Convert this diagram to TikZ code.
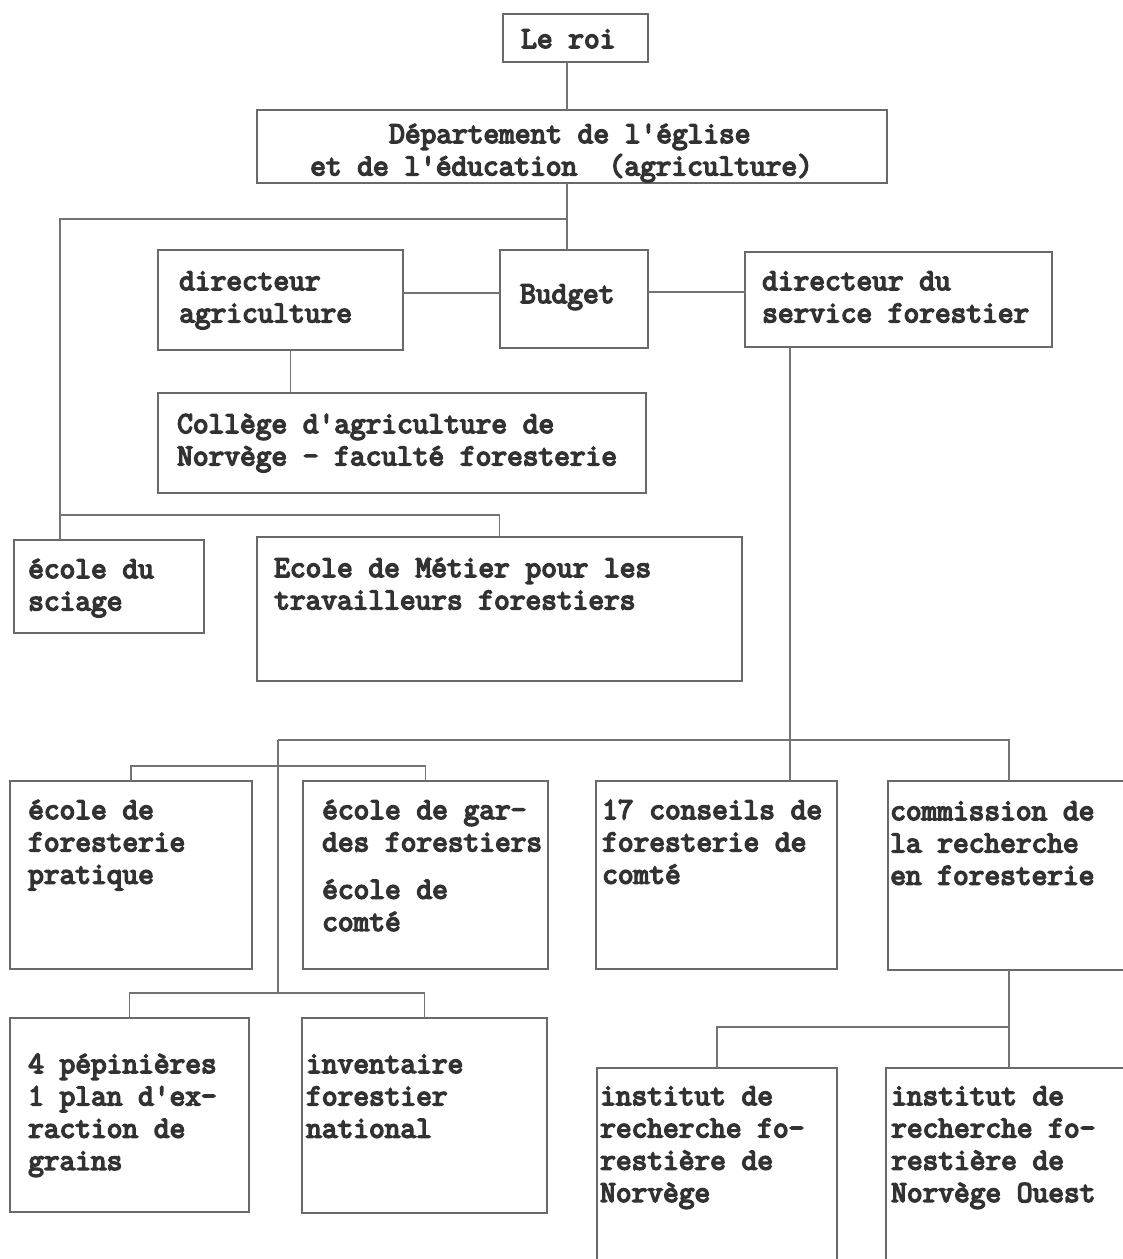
\documentclass[tikz,border=0pt]{standalone}
\usepackage{fontspec}
\newfontfamily\typewriter[FakeBold=5]{Latin Modern Mono}
\definecolor{boxgray}{RGB}{105,105,105}
\definecolor{linkgray}{RGB}{115,115,115}
\definecolor{inkgray}{RGB}{50,50,50}
\newcommand\lblfont{\typewriter\fontsize{30.5}{32.3}\selectfont}
\newcommand\lines[1]{\begin{tabular}[t]{@{}l@{}}#1\end{tabular}}
% an organisation box given by its top-left and bottom-right corners
\newcommand\orgbox[5]{\node[box, minimum width={#4-#2}, minimum height={#5-#3}] (#1) at (#2,#3) {};}
\begin{document}
\begin{tikzpicture}[x=1pt,y=-1pt,
  box/.style={draw=boxgray, line width=1.8pt, rectangle, inner sep=0pt, outer sep=0pt, anchor=north west},
  lbl/.style={anchor=base west, inner sep=0pt, text=inkgray, font=\lblfont},
  link/.style={draw=linkgray, line width=1.4pt}]
\fill[white] (0,0) rectangle (1123,1259);
\useasboundingbox (0,0) rectangle (1123,1259);

% boxes
\orgbox{roi}{503}{14}{648}{62}
\orgbox{dept}{257}{110}{887}{183}
\orgbox{diragri}{158}{250}{403}{350}
\orgbox{budget}{500}{250}{648}{348}
\orgbox{dirserv}{745}{252}{1052}{347}
\orgbox{college}{158}{393}{646}{493}
\orgbox{sciage}{14}{540}{204}{633}
\orgbox{metier}{257}{537}{742}{681}
\orgbox{pratique}{10}{781}{252}{969}
\orgbox{gardes}{303}{781}{548}{969}
\orgbox{conseils}{596}{781}{837}{969}
\orgbox{commission}{888}{781}{1130}{970}
\orgbox{pepin}{10}{1018}{249}{1212}
\orgbox{invent}{302}{1018}{547}{1213}
\orgbox{instN}{597}{1068}{837}{1275}
\orgbox{instW}{886}{1068}{1130}{1275}

% labels
\node[lbl] (roi-t) at (521,48) {Le roi};
\node[lbl] (dept-t) at (310,143) {\lines{\hspace*{79pt}Département de l'église\\et de l'éducation~ (agriculture)}};
\node[lbl] (diragri-t) at (179,290) {\lines{directeur\\agriculture}};
\node[lbl] (budget-t) at (520,303) {Budget};
\node[lbl] (dirserv-t) at (762,290) {\lines{directeur du\\service forestier}};
\node[lbl] (college-t) at (177,433) {\lines{Collège d'agriculture de\\Norvège - faculté foresterie}};
\node[lbl] (sciage-t) at (28,578) {\lines{école du\\sciage}};
\node[lbl] (metier-t) at (274,577) {\lines{Ecole de Métier pour les\\travailleurs forestiers}};
\node[lbl] (pratique-t) at (28,819) {\lines{école de\\foresterie\\pratique}};
\node[lbl] (gardes-t) at (322,819) {\lines{école de gar-\\des forestiers\\[15pt]école de\\comté}};
\node[lbl] (conseils-t) at (602,819) {\lines{17 conseils de\\foresterie de\\comté}};
\node[lbl] (commission-t) at (890,820) {\lines{commission de\\la recherche\\en foresterie}};
\node[lbl] (pepin-t) at (28,1073) {\lines{4 pépinières\\1 plan d'ex-\\raction de\\grains}};
\node[lbl] (invent-t) at (306,1073) {\lines{inventaire\\forestier\\national}};
\node[lbl] (instN-t) at (600,1105) {\lines{institut de\\recherche fo-\\restière de\\Norvège}};
\node[lbl] (instW-t) at (891,1105) {\lines{institut de\\recherche fo-\\restière de\\Norvège Ouest}};

% junctions of the connector lines
\coordinate (j1) at (567,219);
\coordinate (j2) at (60,219);
\coordinate (j3) at (60,515);
\coordinate (j4) at (790,740);
\coordinate (j5) at (278,740);
\coordinate (j6) at (278,766);
\coordinate (j7) at (278,993);
\coordinate (j8) at (1008,1027);

% connectors
\draw[link] (j1 |- roi.south) -- (j1 |- dept.north);
\draw[link] (j1 |- dept.south) -- (j1 |- budget.north);
\draw[link] (j1) -- (j2) -- (j2 |- sciage.north);
\draw[link] (j3) -| (metier.north);
\draw[link] ([yshift=7pt]diragri.east) -- ([yshift=7pt]diragri.east -| budget.west);
\draw[link] ([yshift=7pt]budget.east) -- ([yshift=7pt]budget.east -| dirserv.west);
\draw[link] ([xshift=10pt]diragri.south) -- ([xshift=10pt]diragri.south |- college.north);
\draw[link] (j4 |- dirserv.south) -- (j4 |- conseils.north);
\draw[link] (j5) -- (j4) -| (commission.north);
\draw[link] (j5) -- (j7);
\draw[link] (pratique.north) |- (j6) -| (gardes.north);
\draw[link] (pepin.north) |- (j7) -| (invent.north);
\draw[link] (commission.south) -- (commission.south |- instW.north);
\draw[link] (j8) -| (instN.north);
\end{tikzpicture}
\end{document}
